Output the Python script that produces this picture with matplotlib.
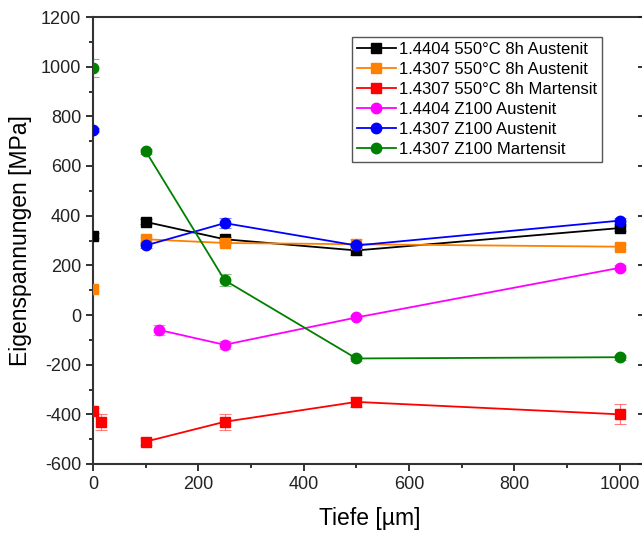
import numpy as np
import matplotlib
matplotlib.use('Agg')
from matplotlib import pyplot as plt
from matplotlib.ticker import MultipleLocator

plt.rcParams['font.family'] = ['Liberation Sans', 'DejaVu Sans']
plt.rcParams['axes.unicode_minus'] = False

# depth profiles (µm / MPa / error)
depth_a = [100, 250, 500, 1000]
depth_m = [125, 250, 500, 1000]

s4404_nit_aus = [375, 305, 260, 350]
e4404_nit_aus = [10, 10, 20, 10]
s4307_nit_aus = [305, 290, 285, 275]
e4307_nit_aus = [10, 10, 20, 10]
s4307_nit_mar = [-510, -430, -350, -400]
e4307_nit_mar = [15, 32, 20, 40]
s4404_z_aus = [-60, -120, -10, 190]
e4404_z_aus = [20, 15, 8, 10]
s4307_z_aus = [280, 370, 280, 380]
e4307_z_aus = [10, 20, 10, 12]
s4307_z_mar = [660, 140, -175, -170]
e4307_z_mar = [10, 25, 10, 10]

# surface values, plotted without connecting line
surf_depth = {'k': [0], 'o': [0], 'r': [0, 15], 'b': [0], 'g': [0]}
surf_val = {'k': [320], 'o': [105], 'r': [-385, -430], 'b': [745], 'g': [995]}
surf_err = {'k': [10], 'o': [10], 'r': [10, 32], 'b': [10], 'g': [36]}

labels = ['1.4404 550°C 8h Austenit', '1.4307 550°C 8h Austenit',
          '1.4307 550°C 8h Martensit', '1.4404 Z100 Austenit',
          '1.4307 Z100 Austenit', '1.4307 Z100 Martensit']
colors = ['#000000', '#FF8000', '#FF0000', '#FF00FF', '#0000FF', '#008000']
markers = ['s', 's', 's', 'o', 'o', 'o']
keys = ['k', 'o', 'r', 'm', 'b', 'g']
xs = [depth_a, depth_a, depth_a, depth_m, depth_a, depth_a]
ys = [s4404_nit_aus, s4307_nit_aus, s4307_nit_mar, s4404_z_aus, s4307_z_aus, s4307_z_mar]
es = [e4404_nit_aus, e4307_nit_aus, e4307_nit_mar, e4404_z_aus, e4307_z_aus, e4307_z_mar]

fig = plt.figure(figsize=(6.42, 5.34), dpi=100)
ax = fig.add_axes([93/642, 70/534, 553/642, 447/534])

def fade(eb):
    for cl in eb[1]:
        cl.set_alpha(0.5)
    for bl in eb[2]:
        bl.set_alpha(0.5)

handles = []
for x, y, e, c, m, lab, k in zip(xs, ys, es, colors, markers, labels, keys):
    ms = 7 if m == 's' else 7.5
    eb = ax.errorbar(x, y, yerr=e, color=c, marker=m, ms=ms, lw=1.3,
                     capsize=4, elinewidth=0.8, capthick=0.8, zorder=3)
    fade(eb)
    handles.append(eb[0])
    if k in surf_depth:
        eb = ax.errorbar(surf_depth[k], surf_val[k], yerr=surf_err[k], color=c,
                         marker=m, ms=ms, ls='none', capsize=4, elinewidth=0.8,
                         capthick=0.8, zorder=3)
        fade(eb)

ax.set_xlim(0, 1050)
ax.set_ylim(-600, 1200)
ax.xaxis.set_major_locator(MultipleLocator(200))
ax.xaxis.set_minor_locator(MultipleLocator(100))
ax.yaxis.set_major_locator(MultipleLocator(200))
ax.yaxis.set_minor_locator(MultipleLocator(100))

for sp in ax.spines.values():
    sp.set_linewidth(1.5)
    sp.set_color('#333333')
ax.tick_params(which='both', direction='out', width=1.3, colors='#222222',
               labelsize=13, top=False, right=False)
ax.tick_params(which='major', length=5)
ax.tick_params(which='minor', length=3)

# inward ticks on the right spine
axr = ax.twinx()
axr.set_ylim(ax.get_ylim())
axr.yaxis.set_major_locator(MultipleLocator(200))
axr.yaxis.set_minor_locator(MultipleLocator(100))
axr.tick_params(which='both', direction='in', width=1.3, colors='#222222',
                labelright=False)
axr.tick_params(which='major', length=6)
axr.tick_params(which='minor', length=3)
for sp in axr.spines.values():
    sp.set_visible(False)

ax.set_xlabel('Tiefe [µm]', fontsize=16.5, labelpad=10)
ax.set_ylabel('Eigenspannungen [MPa]', fontsize=16.5, labelpad=6)

leg = ax.legend(handles, labels, loc='upper right',
                bbox_to_anchor=((602-93)/553, (464-37)/447),
                borderaxespad=0, fontsize=12, handlelength=2.3, handletextpad=0.2,
                labelspacing=0.3, borderpad=0.3, fancybox=False, framealpha=1)
leg.get_frame().set_edgecolor('#555555')
leg.get_frame().set_linewidth(1.0)
leg.set_zorder(5)

fig.savefig('out.png', dpi=100)
